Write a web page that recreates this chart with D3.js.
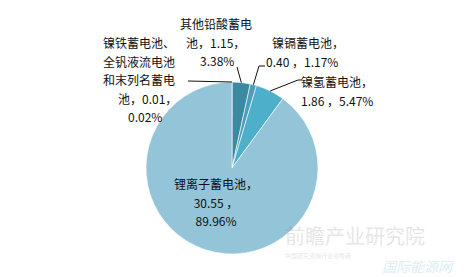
<!DOCTYPE html>
<html><head><meta charset="utf-8">
<script src="https://cdn.jsdelivr.net/npm/d3@7"></script>
<style>body{margin:0;background:#fff}svg{display:block}text{font-family:"Noto Sans CJK SC","DejaVu Sans",sans-serif;font-size:12px;fill:#111}</style>
</head><body><svg id="c" width="473" height="277"></svg>
<script>
const categories = ["镍铁蓄电池、全钒液流电池和末列名蓄电池","其他铅酸蓄电池","镍镉蓄电池","镍氢蓄电池","锂离子蓄电池"];
const values = [0.01, 1.15, 0.40, 1.86, 30.55];
const percents = ["0.02%","3.38%","1.17%","5.47%","89.96%"];
const colors = ["#3f8aa0","#3b8aa2","#4c9fb6","#4eafca","#93c4d8"];
const labelLines = [
  ["镍铁蓄电池、","全钒液流电池","和末列名蓄电","池，0.01，","0.02%"],
  ["其他铅酸蓄电","池，1.15，","3.38%"],
  ["镍镉蓄电池，","0.40 ，1.17%"],
  ["镍氢蓄电池，","1.86 ，5.47%"],
  ["锂离子蓄电池，","30.55 ，","89.96%"]
];
const svg = d3.select("#c");
const cx = 232, cy = 168, r = 86;
const pie = d3.pie().sort(null).value(d => d)(values);
const arc = d3.arc().innerRadius(0).outerRadius(r);
const g = svg.append("g").attr("transform", `translate(${cx},${cy})`);
g.selectAll("path").data(pie).enter().append("path")
  .attr("d", arc).attr("fill", (d,i) => colors[i])
  .attr("stroke", "#fff").attr("stroke-width", 0.6);

// watermark
const wm = svg.append("g").attr("opacity", 0.18);
wm.append("text").attr("x", 285).attr("y", 244).style("font-size","20px").style("fill","#777").text("前瞻产业研究院");
wm.append("text").attr("x", 285).attr("y", 258).style("font-size","6px").style("fill","#777").text("中国研究咨询行业领导者");
wm.append("text").attr("x", 382).attr("y", 272).style("font-size","14px").style("fill","#3aa3c8").style("font-style","italic").text("国际能源网");

const labelPos = [
  {y: 48, anchor: "start", lx: [103,103,103,118,128]},
  {y: 29, anchor: "start", lx: [180,186,200]},
  {y: 48, anchor: "start", lx: [272,266]},
  {y: 87, anchor: "start", lx: [301,301]},
  {y: 189, anchor: "middle", lx: [216,216,216]}
];
labelLines.forEach((lines, i) => {
  const p = labelPos[i];
  lines.forEach((t, j) => {
    svg.append("text")
      .attr("x", p.lx[j])
      .attr("y", p.y + j * 18.5)
      .attr("text-anchor", p.anchor)
      .text(t);
  });
});

function edge(d, frac) {
  const a = d.startAngle + (d.endAngle - d.startAngle) * frac;
  return [cx + r * Math.sin(a), cy - r * Math.cos(a)];
}
const leaders = [
  {i: 0, pts: [[188, 81]]},
  {i: 1, pts: [[237, 67]]},
  {i: 2, pts: [[265, 66],[259, 66]]},
  {i: 3, pts: [[302, 80],[298, 80]]}
];
leaders.forEach(L => {
  const e = edge(pie[L.i], 0.5);
  const pts = L.pts.concat([e]);
  svg.append("path").attr("d", d3.line()(pts)).attr("fill","none").attr("stroke","#111").attr("stroke-width",1);
});
</script></body></html>
